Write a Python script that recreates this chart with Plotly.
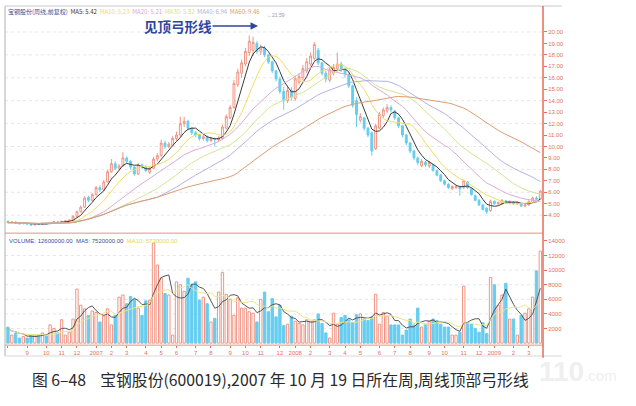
import plotly.graph_objects as go
import pandas as pd

# ---------------- data ----------------
opens = [3.45,3.35,3.40,3.30,3.25,3.35,3.22,3.15,3.25,3.20,3.30,3.25,3.36,3.42,3.36,3.46,3.50,3.56,3.90,4.30,
         4.70,5.55,5.30,5.80,6.40,6.20,6.90,7.80,8.50,8.10,8.30,9.00,8.70,8.20,7.60,8.40,8.20,7.75,8.10,8.90,
         9.20,10.30,10.00,10.10,10.70,11.00,12.00,12.20,11.60,11.20,11.00,10.70,10.85,10.50,10.65,10.60,10.70,11.60,12.50,13.40,
         15.40,16.40,17.20,18.20,18.40,19.00,18.30,18.60,18.00,17.40,16.60,15.90,14.80,14.00,14.90,14.20,15.60,16.00,16.60,17.20,
         17.70,18.40,17.30,16.40,15.80,16.40,16.80,17.20,16.80,16.30,15.30,14.00,12.30,12.50,11.60,11.20,9.80,11.60,12.70,13.10,
         13.40,13.10,12.50,11.80,11.00,10.30,9.60,9.00,8.30,8.60,8.30,8.40,7.90,7.50,7.00,6.70,6.30,6.40,6.50,6.40,
         6.90,6.30,5.70,5.30,4.90,4.60,4.40,5.20,5.00,5.00,5.25,5.10,5.15,5.00,5.00,4.80,4.90,5.10,5.50,5.40]
closes = [3.35,3.40,3.30,3.25,3.35,3.22,3.15,3.25,3.20,3.30,3.25,3.36,3.42,3.36,3.46,3.50,3.56,3.90,4.30,4.70,
          5.50,5.30,5.80,6.40,6.20,6.90,7.80,8.50,8.10,8.30,9.00,8.70,8.20,7.60,8.40,8.20,7.90,8.10,8.90,9.20,
          10.30,10.00,10.20,10.70,11.00,12.00,12.20,11.60,11.20,11.00,10.70,10.85,10.50,10.70,10.60,10.75,11.70,12.60,13.40,15.50,
          16.50,17.30,18.30,19.20,19.10,18.30,18.60,18.00,17.40,16.60,15.90,14.80,14.00,14.90,14.30,15.90,16.10,16.80,17.40,17.90,
          18.90,17.30,16.40,15.90,16.70,16.90,17.20,16.80,16.30,15.30,13.60,12.80,12.60,11.60,11.00,9.60,11.80,12.80,13.20,13.40,
          13.20,12.50,11.80,11.00,10.30,9.60,9.00,8.60,8.70,8.40,8.60,7.90,7.50,7.00,6.70,6.40,6.50,6.50,6.30,7.00,
          6.40,5.80,5.30,4.90,4.50,4.30,5.20,5.00,5.10,5.30,5.10,5.20,5.00,5.10,4.80,4.90,5.20,5.50,5.40,6.10]
highs = [3.55,3.45,3.44,3.36,3.40,3.38,3.26,3.30,3.30,3.34,3.35,3.42,3.48,3.46,3.52,3.56,3.62,3.98,4.40,4.85,
         5.65,5.70,5.92,6.55,6.60,7.05,7.95,8.90,8.70,8.45,9.50,9.15,8.80,8.30,8.55,8.50,8.30,8.20,9.10,9.40,
         10.60,10.50,10.40,10.90,11.30,12.60,12.60,12.30,11.70,11.35,11.10,11.00,10.95,10.85,10.80,10.90,11.90,12.80,13.60,15.80,
         16.80,17.60,18.60,19.70,19.60,19.20,18.90,18.80,18.10,17.50,16.70,16.10,15.20,15.30,15.20,16.20,16.40,17.10,17.70,18.20,
         19.10,18.60,17.40,16.60,16.90,17.20,18.20,17.40,16.90,16.40,15.40,14.30,12.90,12.60,11.70,11.30,12.00,13.00,13.40,13.70,
         13.60,13.20,12.60,11.90,11.10,10.40,9.70,9.10,8.90,8.75,8.75,8.50,8.00,7.60,7.10,6.80,6.60,6.60,6.60,7.10,
         7.00,6.40,5.80,5.40,5.00,4.70,5.35,5.30,5.20,5.40,5.30,5.30,5.20,5.20,5.05,5.00,5.30,5.60,5.65,6.20]
lows = [3.30,3.28,3.25,3.20,3.22,3.15,3.10,3.11,3.16,3.17,3.20,3.22,3.30,3.30,3.32,3.40,3.45,3.52,3.85,4.22,
        4.65,5.15,5.20,5.70,6.00,6.10,6.85,7.70,7.90,7.95,8.20,8.50,8.00,7.45,7.50,8.00,7.75,7.60,8.00,8.70,
        9.10,9.80,9.85,10.00,10.50,10.80,11.70,11.40,11.00,10.80,10.50,10.50,10.35,10.40,10.00,10.40,10.60,11.50,12.40,13.30,
        15.20,16.00,17.00,17.90,17.90,18.10,18.00,17.80,17.20,16.40,15.70,14.60,13.20,13.80,14.00,14.00,15.40,15.80,16.40,17.00,
        17.50,17.10,16.20,15.60,15.60,16.20,16.60,16.50,16.00,15.10,13.40,11.70,12.10,11.40,10.80,9.20,9.70,11.50,12.50,12.90,
        13.00,12.30,11.60,10.80,10.10,9.40,8.80,8.40,8.20,8.20,8.10,7.80,7.40,6.90,6.60,6.30,6.20,6.30,5.70,6.30,
        6.30,5.70,5.20,4.80,4.40,4.10,4.30,4.90,4.90,4.95,5.00,5.00,4.90,4.90,4.70,4.70,4.85,5.05,5.30,5.35]
volumes = [2200,1100,1400,700,900,700,1100,1100,1100,1400,1000,2500,2000,1400,3200,1100,1500,3300,7400,5200,
           4700,3800,4400,4200,2900,3700,4700,2500,3800,6300,6600,5400,6400,
           6000,4800,3800,5800,5900,13700,10700,8900,6800,6600,1100,8400,8000,7100,8900,8000,8400,5900,6300,5400,
           2900,3400,7000,9700,
           6700,6000,3800,6200,4800,4800,4300,4100,2900,6000,7000,4300,6100,3600,5200,2400,2600,3700,3000,2700,
           2500,3200,3000,3200,4000,2700,1400,700,4100,2600,3500,3800,3200,2800,3900,4000,3300,3100,3600,6700,
           2600,4200,3700,2500,2500,2500,1100,1800,3300,2500,4800,2200,2600,3000,3300,3100,2600,2200,2200,1100,
           1100,1500,7800,2800,2600,2000,1500,2800,1300,9000,8000,5200,6600,8200,3300,3300,1100,3800,4100,4700,
           6300,9900,12600]

month_pos = [0, 5, 10, 14, 18, 23, 27, 31, 36, 40, 44, 49, 53, 58, 62, 66, 71, 75, 79, 84, 88, 92, 97,
             101, 105, 110, 114, 119, 123, 127, 132, 136]
month_text = ["2006年", "9", "10", "11", "12", "2007", "2", "3", "4", "5", "6", "7", "8", "9", "10", "11", "12",
              "2008", "2", "3", "4", "5", "6", "7", "8", "9", "10", "11", "12", "2009", "2", "3"]

price_ticks = [4, 5, 6, 7, 8, 9, 10, 11, 12, 13, 14, 15, 16, 17, 18, 19, 20]
price_grid = [4, 6, 8, 10, 12, 14, 16, 18, 20]
vol_ticks = [2000, 4000, 6000, 8000, 10000, 12000, 14000]
vol_grid = [2000, 4000, 6000, 8000, 10000, 12000]

ma_periods = [5, 10, 20, 30, 40, 60]
ma_colors = ["#3a3a3a", "#eedd66", "#dcaad6", "#d2e493", "#b4b2e2", "#dc9c72"]

# ---------------- derived ----------------
idx = list(range(len(closes)))
cs = pd.Series(closes)
vs = pd.Series(volumes)
up = [c >= o for o, c in zip(opens, closes)]

UP = "#f09484"
DN = "#66cdf0"

fig = go.Figure()

fig.add_trace(go.Candlestick(
    x=idx, open=opens, high=highs, low=lows, close=closes,
    increasing=dict(line=dict(color=UP, width=1), fillcolor="white"),
    decreasing=dict(line=dict(color=DN, width=1), fillcolor=DN),
    whiskerwidth=0, xaxis="x", yaxis="y", showlegend=False, hoverinfo="skip"))

ma_last = []
for p, col in zip(ma_periods, ma_colors):
    m = cs.rolling(p, min_periods=1).mean()
    ma_last.append(m.iloc[-1])
    fig.add_trace(go.Scatter(x=idx, y=m, mode="lines", line=dict(color=col, width=1),
                             xaxis="x", yaxis="y", showlegend=False, hoverinfo="skip"))

fig.add_trace(go.Bar(
    x=idx, y=volumes, width=0.62,
    marker=dict(color=["white" if u else DN for u in up],
                line=dict(color=[UP if u else DN for u in up], width=1)),
    xaxis="x2", yaxis="y2", showlegend=False, hoverinfo="skip"))
vma5 = vs.rolling(5, min_periods=1).mean()
vma10 = vs.rolling(10, min_periods=1).mean()
fig.add_trace(go.Scatter(x=idx, y=vma5, mode="lines", line=dict(color="#555555", width=1),
                         xaxis="x2", yaxis="y2", showlegend=False, hoverinfo="skip"))
fig.add_trace(go.Scatter(x=idx, y=vma10, mode="lines", line=dict(color="#ece48a", width=1),
                         xaxis="x2", yaxis="y2", showlegend=False, hoverinfo="skip"))

# ---------------- layout ----------------
XR = [-0.78, 139.7]
AX = "#e5705c"
tickfont = dict(size=6, color="#e5705c", family="Liberation Sans")

shapes = []
for g in price_grid:
    shapes.append(dict(type="line", xref="paper", yref="y", x0=0, x1=1, y0=g, y1=g,
                       line=dict(color="#e6e6e6", width=1, dash="dot"), layer="below"))
for g in vol_grid:
    shapes.append(dict(type="line", xref="paper", yref="y2", x0=0, x1=1, y0=g, y1=g,
                       line=dict(color="#e6e6e6", width=1, dash="dot"), layer="below"))
# frame
shapes += [
    dict(type="line", xref="paper", yref="paper", x0=0, x1=0, y0=0, y1=1, line=dict(color="#b0b0b0", width=1)),
    dict(type="line", xref="paper", yref="paper", x0=0, x1=1.035, y0=1, y1=1, line=dict(color="#c8c8c8", width=1)),
    dict(type="line", xref="paper", yref="paper", x0=0, x1=1, y0=0.351, y1=0.351, line=dict(color="#ec8f80", width=1)),
    dict(type="line", xref="paper", yref="paper", x0=0, x1=1, y0=0.031, y1=0.031, line=dict(color="#ec8f80", width=1)),
    dict(type="line", xref="paper", yref="paper", x0=0, x1=1.035, y0=0, y1=0, line=dict(color="#d8d8d8", width=1)),
    dict(type="line", xref="paper", yref="paper", x0=1, x1=1, y0=-0.005, y1=1, line=dict(color="#e86a58", width=1.5)),
]

ma_names = "".join(
    f'<span style="color:{c}">MA{p}: {v:.2f}&nbsp;&nbsp;</span>' for p, c, v in zip(ma_periods, ma_colors, ma_last))

annotations = [
    dict(xref="paper", yref="paper", x=0.004, y=0.999, xanchor="left", yanchor="top", showarrow=False,
         text='<span style="color:#3b4f9a">宝钢股份(周线,前复权)&nbsp;&nbsp;</span>' + ma_names,
         font=dict(size=6, family="Noto Sans CJK SC"), borderpad=0),
    dict(xref="paper", yref="paper", x=0.004, y=0.343, xanchor="left", yanchor="top", showarrow=False,
         text=(f'<span style="color:#3b4f9a">VOLUME: {volumes[-1]*1000.:.2f}&nbsp;&nbsp;MA5: {vma5.iloc[-1]*1000:.2f}&nbsp;&nbsp;</span>'
               f'<span style="color:#e3d45a">MA10: {vma10.iloc[-1]*1000:.2f}</span>'),
         font=dict(size=6, family="Liberation Sans")),
    dict(xref="x", yref="y", x=65.3, y=20.52, ax=-80, ay=0, axref="pixel", ayref="pixel",
         text="<b>见顶弓形线</b>", showarrow=True, arrowhead=2, arrowsize=1, arrowwidth=1.5, borderpad=0,
         arrowcolor="#2f45a0", font=dict(size=13.5, color="#2f45a0", family="Noto Sans CJK SC")),
    dict(xref="x", yref="y", x=67.5, y=21.45, xanchor="left", showarrow=False, text="←21.59",
         font=dict(size=5, color="#9a9a9a", family="Liberation Sans"), borderpad=0),
    dict(xref="paper", yref="paper", x=0.513, y=-0.105, showarrow=False,
         text="图 6–48&nbsp;&nbsp;&nbsp;&nbsp;宝钢股份(600019),2007 年 10 月 19 日所在周,周线顶部弓形线",
         font=dict(size=15.8, color="#2a2a2a", family="Noto Sans CJK SC")),
    dict(xref="paper", yref="paper", x=1.065, y=-0.045, showarrow=False, xanchor="center", yanchor="middle",
         text="<b>110</b><span style='font-size:15px'>.com</span>", borderpad=0,
         font=dict(size=28, color="#efefef", family="Liberation Sans")),
]

fig.update_layout(
    width=636, height=406,
    margin=dict(l=5, r=93, t=6, b=50),
    paper_bgcolor="white", plot_bgcolor="white",
    showlegend=False,
    xaxis=dict(domain=[0, 1], range=XR, anchor="y", showticklabels=False, showgrid=False,
               zeroline=False, showline=False, rangeslider=dict(visible=False), fixedrange=True),
    xaxis2=dict(domain=[0, 1], range=XR, anchor="y2", matches="x", showgrid=False, zeroline=False,
                showline=False, tickvals=month_pos, ticktext=month_text, ticks="outside", ticklen=2,
                tickcolor=AX, tickfont=tickfont),
    yaxis=dict(domain=[0.351, 1], range=[2.43, 22.27], side="right", tickvals=price_ticks,
               ticktext=[f"{t:.2f}" for t in price_ticks], ticks="outside", ticklen=3, tickcolor=AX,
               tickfont=tickfont, showgrid=False, zeroline=False, showline=False),
    yaxis2=dict(domain=[0.031, 0.34], range=[-274, 14540], side="right", tickvals=vol_ticks,
                ticktext=[str(t) for t in vol_ticks], ticks="outside", ticklen=3, tickcolor=AX,
                tickfont=tickfont, showgrid=False, zeroline=False, showline=False),
    shapes=shapes,
    annotations=annotations,
    bargap=0.3,
)

fig.write_html("out.html", config={"displayModeBar": False, "staticPlot": True},
               post_script="document.body.style.margin='0px';")
